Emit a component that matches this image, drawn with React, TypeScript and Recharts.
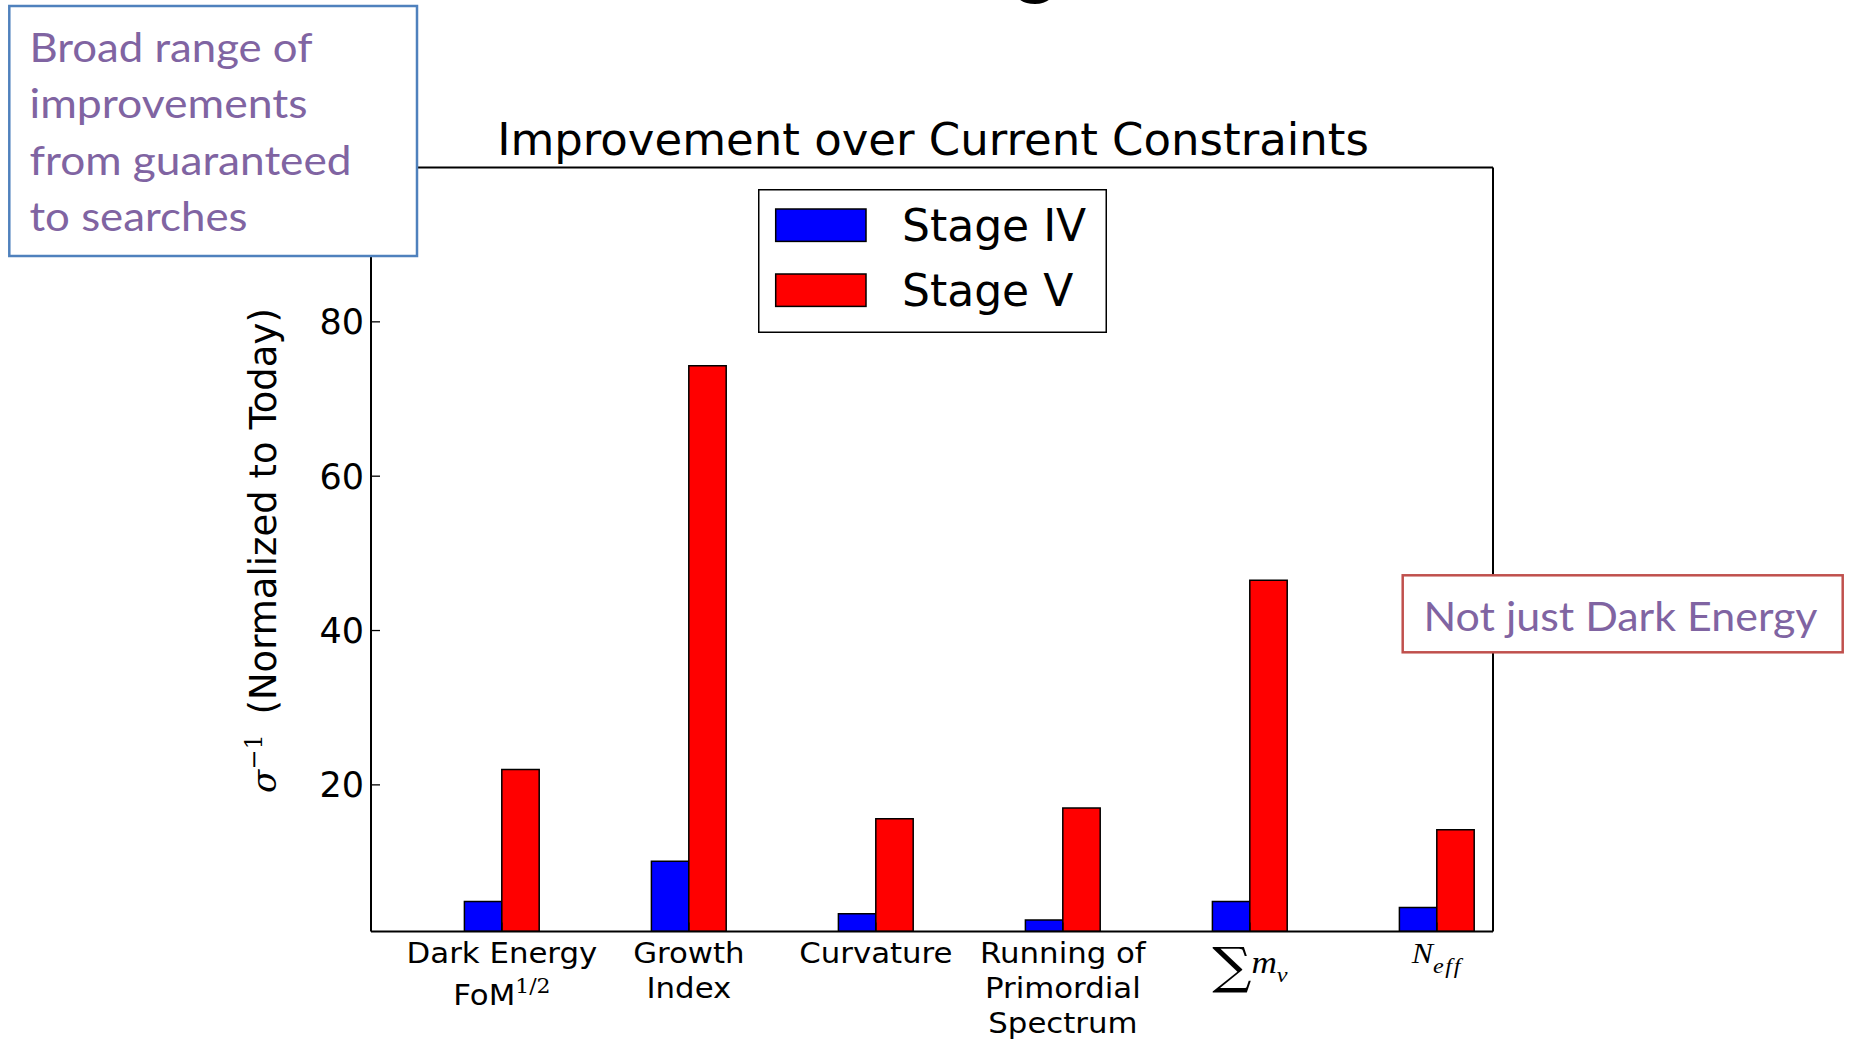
import React from 'react';
import { BarChart, Bar, XAxis, YAxis, Legend } from 'recharts';

// ---------- data ----------
const categories = [
  'Dark Energy FoM^{1/2}',
  'Growth Index',
  'Curvature',
  'Running of Primordial Spectrum',
  'Σm_ν',
  'N_eff',
];
const categoryPositions = [0, 1, 2, 3, 4, 5];
const stageIVValues = [4.9, 10.1, 3.3, 2.5, 4.9, 4.1];
const stageVValues = [22.0, 74.3, 15.6, 17.0, 46.5, 14.2];
const seriesNames = ['Stage IV', 'Stage V'];
const yTicks = [20, 40, 60, 80];
const yDomain = [1, 100];
const xDomain = [-0.7, 5.3];

const xTickLabels = [
  { kind: 'text', lines: ['Dark Energy', 'FoM'], sup: '1/2' },
  { kind: 'text', lines: ['Growth', 'Index'] },
  { kind: 'text', lines: ['Curvature'] },
  { kind: 'text', lines: ['Running of', 'Primordial', 'Spectrum'] },
  { kind: 'sum', big: '∑', base: 'm', sub: 'ν' },
  { kind: 'sub', base: 'N', sub: 'eff' },
];

const chartTitle = 'Improvement over Current Constraints';
const yLabelText = ' (Normalized to Today)';
const noteLeftLines = ['Broad range of', 'improvements', 'from guaranteed', 'to searches'];
const noteRight = 'Not just Dark Energy';

const rows = categories.map((name, i) => ({
  x: categoryPositions[i],
  name,
  stageIV: stageIVValues[i],
  stageV: stageVValues[i],
}));

// ---------- styling ----------
const SANS = 'DejaVu Sans';
const SERIF = 'DejaVu Serif';
const MATH = 'Liberation Serif';
const NOTE_FONT = 'Lato';
const PURPLE = '#8064A2';
const STRETCH = 1.1;

const XTick = (props: any) => {
  const { x, y, payload } = props;
  const idx = Math.round(payload.value);
  const lab: any = xTickLabels[idx];
  if (!lab) return null;
  let content: any = null;
  if (lab.kind === 'text') {
    content = lab.lines.map((ln: string, i: number) => {
      const isLast = i === lab.lines.length - 1;
      const by = i === 0 ? 31.8 : lab.sup ? 73.5 : 31.8 + 35 * i;
      return (
        <text key={i} x={0} y={by} textAnchor="middle" fontFamily={SANS} fontSize={28} fill="#000">
          {ln}
          {isLast && lab.sup ? (
            <tspan dy={-12} fontSize={20} fontFamily={SERIF}>
              {lab.sup}
            </tspan>
          ) : null}
        </text>
      );
    });
  } else if (lab.kind === 'sum') {
    content = (
      <text x={0} y={41.5} textAnchor="middle" fill="#000">
        <tspan fontFamily={SERIF} fontSize={50} dy={10}>
          {lab.big}
        </tspan>
        <tspan fontFamily={MATH} fontStyle="italic" fontSize={32} dy={-10}>
          {lab.base}
        </tspan>
        <tspan fontFamily={MATH} fontStyle="italic" fontSize={22} dy={8.7}>
          {lab.sub}
        </tspan>
      </text>
    );
  } else {
    content = (
      <text x={0} y={31.2} textAnchor="middle" fill="#000">
        <tspan fontFamily={MATH} fontStyle="italic" fontSize={29}>
          {lab.base}
        </tspan>
        <tspan fontFamily={MATH} fontStyle="italic" fontSize={22} dy={10.3} letterSpacing={1.5}>
          {lab.sub}
        </tspan>
      </text>
    );
  }
  return <g transform={`translate(${x},${y}) scale(${STRETCH},1)`}>{content}</g>;
};

const YTick = (props: any) => {
  const { x, y, payload } = props;
  return (
    <text x={x} y={y} dy="0.36em" textAnchor="end" fontFamily={SANS} fontSize={35} fill="#000">
      {payload.value}
    </text>
  );
};

const YAxisLabel = () => {
  const cx = 276;
  const cy = 550.5;
  return (
    <text
      x={cx}
      y={cy}
      transform={`rotate(-90, ${cx}, ${cy})`}
      textAnchor="middle"
      fontFamily={SANS}
      fontSize={37}
      fill="#000"
    >
      <tspan fontFamily={SERIF} fontStyle="italic" fontSize={34}>
        σ
      </tspan>
      <tspan fontFamily={SERIF} fontSize={24} dy={-14}>
        −1
      </tspan>
      <tspan dy={14} dx={8}>
        {yLabelText}
      </tspan>
    </text>
  );
};

const LegendBox = (props: any) => {
  const payload = props.payload || [];
  return (
    <svg width={349} height={144} style={{ display: 'block' }}>
      <rect x={0.75} y={0.75} width={347.5} height={142.5} fill="#fff" stroke="#000" strokeWidth={1.5} />
      {payload.map((p: any, i: number) => (
        <g key={i}>
          <rect x={17.7} y={20 + 65 * i} width={90.3} height={32.4} fill={p.color} stroke="#000" strokeWidth={1.5} />
          <text x={144} y={52.4 + 65 * i} fontFamily={SANS} fontSize={44} fill="#000">
            {p.value}
          </text>
        </g>
      ))}
    </svg>
  );
};

export default function App() {
  return (
    <div
      style={{
        position: 'absolute',
        left: 0,
        top: 0,
        width: 1851,
        height: 1039,
        background: '#fff',
        overflow: 'hidden',
      }}
    >
      <BarChart
        width={1851}
        height={1039}
        data={rows}
        margin={{ top: 166.5, right: 357, bottom: 0, left: 291 }}
        barGap={0}
        barSize={37.4}
      >
        <XAxis
          xAxisId="bottom"
          type="number"
          dataKey="x"
          domain={xDomain}
          allowDataOverflow
          ticks={categoryPositions}
          interval={0}
          height={107.5}
          tickSize={-9}
          tickMargin={9}
          tick={<XTick />}
          axisLine={{ stroke: '#000', strokeWidth: 2 }}
          tickLine={{ stroke: '#000', strokeWidth: 1.3 }}
        />
        <XAxis
          xAxisId="top"
          orientation="top"
          type="number"
          dataKey="x"
          domain={xDomain}
          allowDataOverflow
          ticks={categoryPositions}
          interval={0}
          height={1}
          tickSize={-9}
          tick={false}
          axisLine={{ stroke: '#000', strokeWidth: 2 }}
          tickLine={{ stroke: '#000', strokeWidth: 1.3 }}
        />
        <YAxis
          yAxisId="left"
          type="number"
          domain={yDomain}
          allowDataOverflow
          ticks={yTicks}
          interval={0}
          width={80}
          tickSize={-9}
          tickMargin={16}
          tick={<YTick />}
          axisLine={{ stroke: '#000', strokeWidth: 2 }}
          tickLine={{ stroke: '#000', strokeWidth: 1.3 }}
          label={{ content: YAxisLabel }}
        />
        <YAxis
          yAxisId="right"
          orientation="right"
          type="number"
          domain={yDomain}
          allowDataOverflow
          ticks={yTicks}
          interval={0}
          width={1}
          tickSize={-9}
          tick={false}
          axisLine={{ stroke: '#000', strokeWidth: 2 }}
          tickLine={{ stroke: '#000', strokeWidth: 1.3 }}
        />
        <Bar
          xAxisId="bottom"
          yAxisId="left"
          dataKey="stageIV"
          name={seriesNames[0]}
          fill="#0000ff"
          stroke="#000"
          strokeWidth={1.5}
          isAnimationActive={false}
        />
        <Bar
          xAxisId="bottom"
          yAxisId="left"
          dataKey="stageV"
          name={seriesNames[1]}
          fill="#ff0000"
          stroke="#000"
          strokeWidth={1.5}
          isAnimationActive={false}
        />
        <Legend
          layout="vertical"
          align="center"
          verticalAlign="middle"
          wrapperStyle={{ position: 'absolute', left: 758, top: 189, width: 349, height: 144 }}
          content={<LegendBox />}
        />
      </BarChart>

      <svg
        width={1851}
        height={1039}
        style={{ position: 'absolute', left: 0, top: 0, pointerEvents: 'none' }}
      >
        <text x={1035.5} y={-12} textAnchor="middle" fontFamily={NOTE_FONT} fontSize={84} fill="#000">
          g
        </text>
        <text x={933} y={155} textAnchor="middle" fontFamily={SANS} fontSize={45} fill="#000">
          {chartTitle}
        </text>

        <rect x={9.3} y={6} width={407.7} height={250} fill="#fff" stroke="#4F81BD" strokeWidth={2.5} />
        {noteLeftLines.map((ln, i) => (
          <text
            key={i}
            x={29.5}
            y={61.7 + 56.5 * i}
            fontFamily={NOTE_FONT}
            fontSize={40}
            fill={PURPLE}
            textLength={[283, 278, 322, 218][i]}
            lengthAdjust="spacingAndGlyphs"
          >
            {ln}
          </text>
        ))}

        <rect x={1402.7} y={575.3} width={440} height={77} fill="#fff" stroke="#C0504D" strokeWidth={2.5} />
        <text
          x={1423.5}
          y={631}
          fontFamily={NOTE_FONT}
          fontSize={40}
          fill={PURPLE}
          textLength={394}
          lengthAdjust="spacingAndGlyphs"
        >
          {noteRight}
        </text>
      </svg>
    </div>
  );
}
